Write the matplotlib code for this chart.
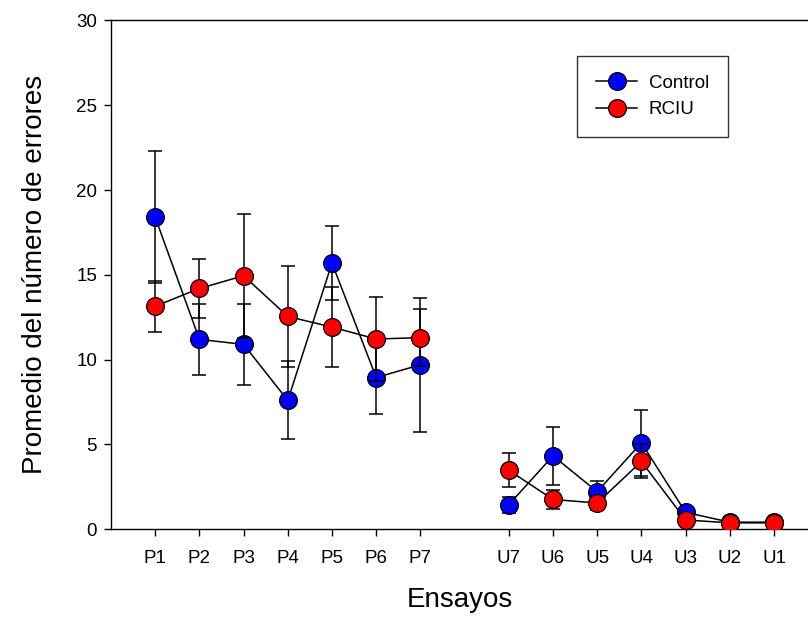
import numpy as np
import matplotlib
matplotlib.use("Agg")
import matplotlib.pyplot as plt

plt.rcParams["font.family"] = ["Liberation Sans", "DejaVu Sans"]

# ensayos: P1..P7, then a gap, U7..U1
trials = ["P1", "P2", "P3", "P4", "P5", "P6", "P7",
          "U7", "U6", "U5", "U4", "U3", "U2", "U1"]
xpos = [1, 2, 3, 4, 5, 6, 7, 9, 10, 11, 12, 13, 14, 15]

control_mean = [18.4, 11.2, 10.9, 7.6, 15.7, 8.95, 9.7,
                1.45, 4.33, 2.22, 5.1, 1.0, 0.42, 0.42]
control_se = [3.9, 2.1, 2.4, 2.3, 2.2, 2.18, 3.95,
              0.47, 1.73, 0.6, 1.96, 0.3, 0.1, 0.1]
rciu_mean = [13.15, 14.2, 14.95, 12.55, 11.92, 11.22, 11.3,
             3.48, 1.76, 1.55, 4.0, 0.55, 0.38, 0.38]
rciu_se = [1.5, 1.72, 3.65, 3.0, 2.37, 2.5, 1.7,
           1.0, 0.54, 0.4, 1.0, 0.2, 0.1, 0.1]

fig = plt.figure(figsize=(8.08, 6.17), dpi=100)
ax = fig.add_axes([111 / 808, 87.7 / 617, 1 - 111 / 808, 508.8 / 617])

ms = 12.8
groups = [slice(0, 7), slice(7, 14)]
series = [("Control", control_mean, control_se, "#0000ff", 1),
          ("RCIU", rciu_mean, rciu_se, "#ff0000", 4)]
x = np.array(xpos)
for label, m, se, col, z in series:
    m, se = np.array(m), np.array(se)
    ax.errorbar(x, m, yerr=se, fmt="none", ecolor="black", elinewidth=1.1,
                capsize=5, capthick=1.1, zorder=z)
    for i, g in enumerate(groups):
        ax.plot(x[g], m[g], "-", color="black", lw=1.1, marker="o", ms=ms,
                mfc=col, mec="black", mew=0.9, zorder=z + 1,
                label=label if i == 0 else None)

ax.set_xlim(0, (808 - 111) / 44.2)
ax.set_ylim(0, 30)
ax.set_yticks(range(0, 31, 5))
ax.set_xticks(xpos)
ax.set_xticklabels(trials)
ax.spines["right"].set_visible(False)
for s in ["left", "bottom", "top"]:
    ax.spines[s].set_linewidth(1.0)
ax.tick_params(axis="both", direction="out", length=5, width=1.0,
               labelsize=13.5, top=False)
ax.tick_params(axis="x", pad=10)
ax.tick_params(axis="y", pad=5)

ax.set_xlabel("Ensayos", fontsize=20, labelpad=14)
ax.set_ylabel("Promedio del número de errores", fontsize=20, labelpad=20)

leg = ax.legend(loc="upper left", bbox_to_anchor=(0.669, 0.930),
                borderaxespad=0, fontsize=13.5, frameon=True, fancybox=False,
                edgecolor="black", handlelength=2.2, borderpad=1.0,
                labelspacing=0.5, handletextpad=0.6)
leg.get_frame().set_linewidth(1.0)

fig.savefig("out.png", dpi=100)
